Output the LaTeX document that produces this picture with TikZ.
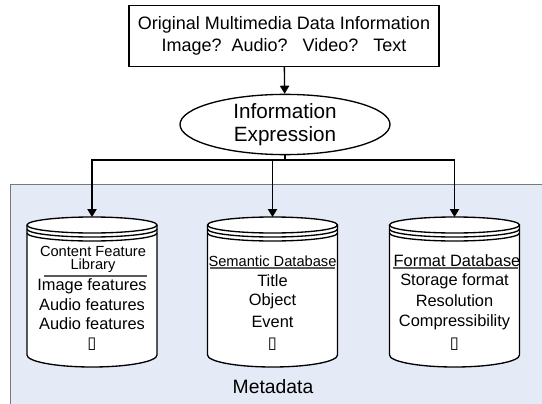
\documentclass[tikz,border=0pt]{standalone}
\usepackage{fontspec}
\setmainfont{Liberation Sans}
\newfontfamily\symfont{DejaVu Sans}
\usetikzlibrary{shapes.geometric,arrows.meta}
\definecolor{panelblue}{RGB}{229,235,246}
\definecolor{panelline}{RGB}{120,120,120}
\definecolor{ruleline}{RGB}{90,90,90}
\begin{document}
\begin{tikzpicture}[x=0.75pt,y=-0.75pt,line width=1pt,
  arr/.style={-{Triangle[length=6pt,width=7pt]}},
  srcbox/.style={draw,minimum width=232.5pt,minimum height=45.75pt,align=center,
    font=\fontsize{13.5}{16.5}\selectfont},
  exprbox/.style={draw,ellipse,inner sep=0pt,minimum width=157.5pt,minimum height=42.75pt,
    align=center,font=\fontsize{15.5}{17.5}\selectfont},
  dbhead/.style={font=\fontsize{11}{10}\selectfont,align=center,inner sep=0pt},
  dbitem/.style={font=\fontsize{12.3}{14}\selectfont,inner sep=0pt},
  dbrule/.style={draw=ruleline,line width=0.8pt},
]
% background and metadata panel
\useasboundingbox (0,0) rectangle (542,403);
\fill[white] (0,0) rectangle (542,403);
\filldraw[fill=panelblue,draw=panelline,line width=0.75pt] (10,184) rectangle (560,420);

\node[srcbox] (source) at (284,36) {Original Multimedia Data Information\\Image?~~Audio?~~~Video?~~~Text};
\node[exprbox] (expr) at (285,124.5) {Information\\Expression};

% the three databases
\foreach \cx/\nm in {92/lib,272.5/sem,454.5/fmt}{
  \filldraw[fill=white] (\cx-65,225) -- (\cx-65,355)
    arc[start angle=180,end angle=0,x radius=65,y radius=12] -- (\cx+65,225);
  \filldraw[fill=white] (\cx,225) ellipse[x radius=65,y radius=8];
  \draw (\cx-65,229) arc[start angle=180,end angle=0,x radius=65,y radius=8];
  \draw (\cx-65,233) arc[start angle=180,end angle=0,x radius=65,y radius=8];
  \coordinate (\nm) at (\cx,217);
}

% connectors
\coordinate (split) at (expr.south |- 0,160);
\draw[arr] (source) -- (expr);
\draw (expr.south) -- (split);
\draw[arr] (split) -| (lib);
\draw[arr] (split) -| (sem);
\draw[arr] (split) -| (fmt);

% content feature library
\node[dbhead] (libhead) at (93,259.5) {Content Feature\\Library};
\draw[dbrule] (44,276) -- (147,276);
\node[dbitem] (lib1) at (92,286) {Image features};
\node[dbitem] (lib2) at (92,305) {Audio features};
\node[dbitem] (lib3) at (92,324) {Audio features};
\node[dbitem] (lib4) at (92,344) {\symfont ▯};

% semantic database
\node[dbhead] (semhead) at (272.5,261) {Semantic Database};
\draw[dbrule] (210,268) -- (335,268);
\node[dbitem] (sem1) at (272.5,281) {Title};
\node[dbitem] (sem2) at (272.5,301) {Object};
\node[dbitem] (sem3) at (272.5,322) {Event};
\node[dbitem] (sem4) at (272.5,344) {\symfont ▯};

% format database
\node[dbitem] (fmthead) at (457,261) {Format Database};
\draw[dbrule] (393,268) -- (518,268);
\node[dbitem] (fmt1) at (454.5,281) {Storage format};
\node[dbitem] (fmt2) at (454.5,301) {Resolution};
\node[dbitem] (fmt3) at (454.5,322) {Compressibility};
\node[dbitem] (fmt4) at (454.5,344) {\symfont ▯};

\node[font=\fontsize{14.5}{16}\selectfont] (meta) at (273,387) {Metadata};
\end{tikzpicture}
\end{document}
